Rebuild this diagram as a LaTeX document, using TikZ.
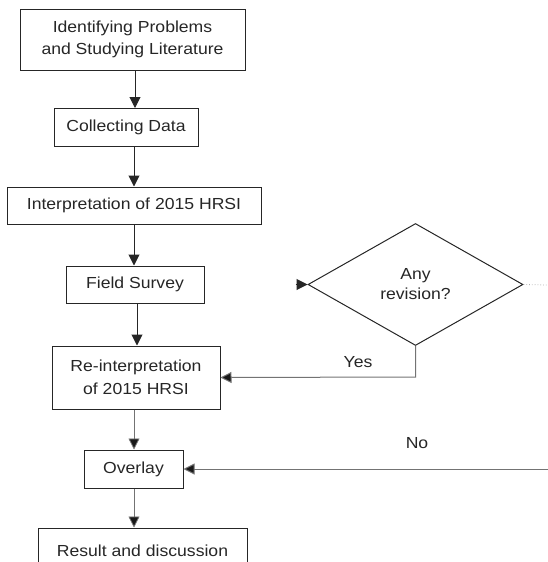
\documentclass[tikz,border=0pt]{standalone}
\usepackage{fontspec}
\setmainfont{Liberation Sans}[FakeStretch=1.1]
\usetikzlibrary{shapes.geometric,arrows.meta,calc}
\begin{document}
\begin{tikzpicture}[x=1pt,y=-1pt,
  box/.style={draw=black!85,line width=1pt,inner sep=0pt,align=center,font=\fontsize{16}{22.5}\selectfont,text=black!85},
  arr/.style={draw=black!85,line width=1pt,-{Triangle[length=11pt,width=11pt]}},
  garr/.style={draw=black!55,line width=1pt,-{Triangle[length=11pt,width=11pt,fill=black!90]}},
  lbl/.style={font=\fontsize{16}{20}\selectfont,text=black!85}]
\useasboundingbox (0,0) rectangle (548,562);
\node[box,minimum width=225pt,minimum height=61pt] (b1) at (132.5,39.5) {Identifying Problems\\and Studying Literature};
\node[box,minimum width=144pt,minimum height=38pt] (b2) at (126,127) {Collecting Data};
\node[box,minimum width=254pt,minimum height=37pt] (b3) at (134,205.5) {Interpretation of 2015 HRSI};
\node[box,minimum width=138pt,minimum height=37pt] (b4) at (135,284.5) {Field Survey};
\node[box,minimum width=168pt,minimum height=63pt] (b5) at (136,377.5) {Re-interpretation\\of 2015 HRSI};
\node[box,minimum width=99pt,minimum height=38pt] (b6) at (133.5,469) {Overlay};
\node[box,minimum width=209pt,minimum height=46pt] (b7) at (142.5,551) {Result and discussion};
\node[box,shape=diamond,minimum width=215pt,minimum height=122pt,font=\fontsize{16}{20}\selectfont] (d) at (415.5,284.5) {Any\\revision?};

\draw[arr] (b1.south -| 135,0) -- (135,108);
\draw[arr] (b2.south -| 134,0) -- (b3.north -| 134,0);
\draw[arr] (b3.south -| 134,0) -- (b4.north -| 134,0);
\draw[arr] (b4.south -| 137,0) -- (b5.north -| 137,0);
\draw[garr,line width=0.8pt] (b5.south -| 134,0) -- (b6.north -| 134,0);
\draw[garr,line width=0.8pt] (b6.south -| 134,0) -- (b7.north -| 134,0);

\coordinate (stub) at ($(d.west)+(-12,0)$);
\draw[arr] (stub) -- (d.west);

\coordinate (yc) at (415.5,377);
\draw[garr] (d.south) -- (yc) -- (b5.east);
\node[lbl] (yes) at (358,362) {Yes};

\coordinate (rend) at (548,285);
\draw[black!30,line width=0.8pt,dotted] (d.east) -- (rend);

\coordinate (nstart) at (548,469);
\draw[garr] (nstart) -- (b6.east);
\node[lbl] (no) at (417,443) {No};
\end{tikzpicture}
\end{document}
